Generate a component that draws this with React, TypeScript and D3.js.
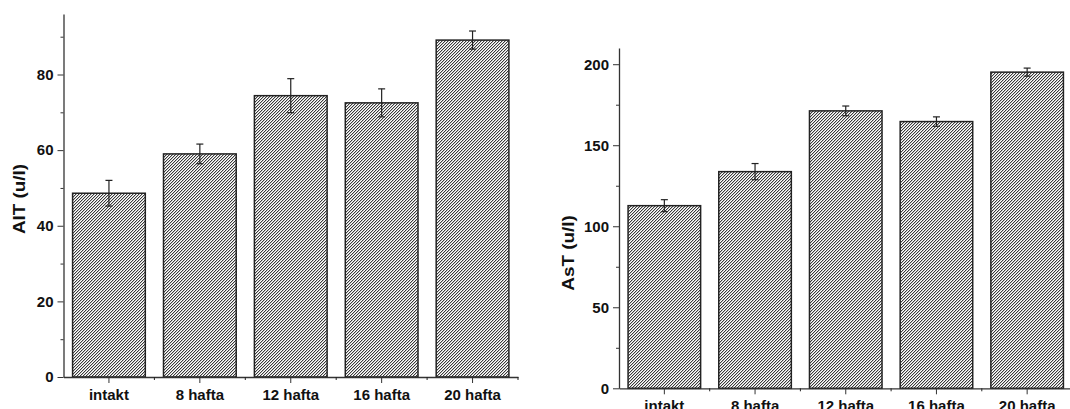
import { useEffect, useRef } from "react";
import * as d3 from "d3";

const categories = ["intakt", "8 hafta", "12 hafta", "16 hafta", "20 hafta"];
const altMeans = [48.6, 59.0, 74.4, 72.5, 89.1];
const altErrors = [3.4, 2.6, 4.5, 3.7, 2.4];
const astMeans = [112.7, 133.7, 171.2, 164.6, 195.1];
const astErrors = [3.7, 5.0, 3.0, 2.9, 2.5];
const altMajorTicks = [0, 20, 40, 60, 80];
const altMinorTicks = [10, 30, 50, 70, 90];
const astMajorTicks = [0, 50, 100, 150, 200];
const astMinorTicks = [25, 75, 125, 175];

const FONT = "'Liberation Sans', Arial, sans-serif";

function drawPanel(svg, opts) {
    const { xRange, yRange, yMax, means, errors, major, minor, title, titleX, titleY } = opts;
    const g = svg.append("g");

    const x = d3.scaleBand()
        .domain(categories)
        .range(xRange)
        .paddingInner(0.2)
        .paddingOuter(0.1);
    const y = d3.scaleLinear()
        .domain([0, yMax])
        .range(yRange);
    const step = x.step();
    const y0 = y(0);

    // bars
    g.selectAll("rect.bar")
        .data(categories)
        .enter()
        .append("rect")
        .attr("x", d => x(d))
        .attr("y", (d, i) => y(means[i]))
        .attr("width", x.bandwidth())
        .attr("height", (d, i) => y0 - y(means[i]))
        .attr("fill", "url(#hatch)")
        .attr("stroke", "#222")
        .attr("stroke-width", 1.5);

    // error bars
    const eb = g.selectAll("g.err")
        .data(categories)
        .enter()
        .append("g")
        .attr("stroke", "#222")
        .attr("stroke-width", 1.2);
    eb.append("line")
        .attr("x1", d => x(d) + x.bandwidth() / 2)
        .attr("x2", d => x(d) + x.bandwidth() / 2)
        .attr("y1", (d, i) => y(means[i] + errors[i]))
        .attr("y2", (d, i) => y(means[i] - errors[i]));
    [1, -1].forEach(s => {
        eb.append("line")
            .attr("x1", d => x(d) + x.bandwidth() / 2 - 3.5)
            .attr("x2", d => x(d) + x.bandwidth() / 2 + 3.5)
            .attr("y1", (d, i) => y(means[i] + s * errors[i]))
            .attr("y2", (d, i) => y(means[i] + s * errors[i]));
    });

    // y axis
    const yAxis = g.append("g")
        .attr("transform", `translate(${xRange[0]},0)`)
        .call(d3.axisLeft(y).tickValues(major).tickSize(6).tickSizeOuter(0).tickPadding(4));
    g.append("g")
        .attr("transform", `translate(${xRange[0]},0)`)
        .call(d3.axisLeft(y).tickValues(minor).tickSize(3).tickFormat(() => ""))
        .select(".domain").remove();
    yAxis.selectAll("text")
        .attr("font-family", FONT)
        .attr("font-weight", "bold")
        .attr("font-size", 15)
        .attr("fill", "#111");

    // x axis
    const xAxis = g.append("g")
        .attr("transform", `translate(0,${y0})`)
        .call(d3.axisBottom(x).tickSize(6).tickSizeOuter(0).tickPadding(6));
    xAxis.selectAll("text")
        .attr("font-family", FONT)
        .attr("font-weight", "bold")
        .attr("font-size", 15)
        .attr("fill", "#111");
    g.append("g")
        .selectAll("line")
        .data(categories)
        .enter()
        .append("line")
        .attr("x1", d => x(d) + x.bandwidth() / 2 + step / 2)
        .attr("x2", d => x(d) + x.bandwidth() / 2 + step / 2)
        .attr("y1", y0)
        .attr("y2", y0 + 3)
        .attr("stroke", "#222");

    g.selectAll(".domain").attr("stroke", "#333").attr("stroke-width", 1.3);
    g.selectAll(".tick line").attr("stroke", "#333");

    g.append("text")
        .attr("transform", `translate(${titleX},${titleY}) rotate(-90) scale(1.18,1)`)
        .attr("text-anchor", "middle")
        .attr("font-family", FONT)
        .attr("font-weight", "bold")
        .attr("font-size", 16)
        .attr("fill", "#111")
        .text(title);
}

export default function App() {
    const ref = useRef(null);

    useEffect(() => {
        ref.current.innerHTML = "";
        const svg = d3.select(ref.current)
            .append("svg")
            .attr("width", 1070)
            .attr("height", 409)
            .style("position", "absolute")
            .style("left", "0px")
            .style("top", "0px")
            .style("background", "#fff");

        // pixel-aligned "/" hatch: dark pixel on the anti-diagonal, a light grey one beside it
        const defs = svg.append("defs");
        const pat = defs.append("pattern")
            .attr("id", "hatch")
            .attr("patternUnits", "userSpaceOnUse")
            .attr("width", 3)
            .attr("height", 3);
        pat.append("rect").attr("width", 3).attr("height", 3).attr("fill", "#fff");
        [0, 1, 2].forEach(r => {
            pat.append("rect")
                .attr("x", 2 - r).attr("y", r)
                .attr("width", 1).attr("height", 1)
                .attr("fill", "#3a3a3a")
                .attr("shape-rendering", "crispEdges");
            pat.append("rect")
                .attr("x", (3 - r) % 3).attr("y", r)
                .attr("width", 1).attr("height", 1)
                .attr("fill", "#c2c2c2")
                .attr("shape-rendering", "crispEdges");
        });

        drawPanel(svg, {
            xRange: [63.5, 518],
            yRange: [377, 14],
            yMax: 96,
            means: altMeans,
            errors: altErrors,
            major: altMajorTicks,
            minor: altMinorTicks,
            title: "AlT (u/l)",
            titleX: 25,
            titleY: 199,
        });
        drawPanel(svg, {
            xRange: [619, 1072.5],
            yRange: [388.3, 48],
            yMax: 210,
            means: astMeans,
            errors: astErrors,
            major: astMajorTicks,
            minor: astMinorTicks,
            title: "AsT (u/l)",
            titleX: 574,
            titleY: 253,
        });
    }, []);

    return <div ref={ref}></div>;
}
